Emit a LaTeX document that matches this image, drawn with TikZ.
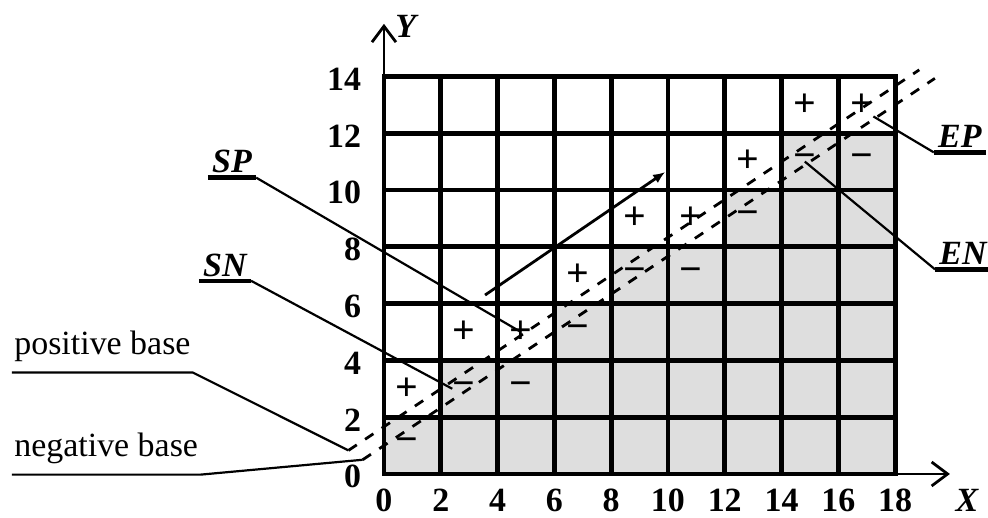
\documentclass[tikz,border=0pt]{standalone}
\usepackage{fontspec}
\setmainfont{Liberation Serif}
\usetikzlibrary{arrows.meta}
\definecolor{cellgray}{gray}{0.87}

\begin{document}
\begin{tikzpicture}[x=0.5cm, y=0.5cm,
    gridline/.style={line width=2.4pt, line cap=rect},
    axis/.style={line width=1.4pt, -{Straight Barb[length=8pt, width=12pt, line width=1.4pt]}},
    base/.style={dash pattern=on 5pt off 5pt, line width=1.4pt},
    arr/.style={line width=1.4pt, -{Latex[length=6pt, width=5pt]}},
    lead/.style={line width=1.1pt},
    uline/.style={line width=2.2pt},
    tick/.style={font=\fontsize{17}{20}\selectfont\bfseries, inner sep=1pt},
    lbl/.style={font=\fontsize{17}{20}\selectfont\bfseries\itshape, inner sep=2pt},
    sgn/.style={font=\fontsize{20}{24}\selectfont\bfseries, inner sep=0pt},
    basetxt/.style={font=\fontsize{17}{20}\selectfont, anchor=base west, inner xsep=1pt, inner ysep=5pt}
]
\useasboundingbox (-13.52,-1.55) rectangle (21.27,16.69);
\fill[cellgray] (0,0) -- (0,2) -- (2,2) -- (2,4) -- (6,4) -- (6,6) -- (8,6) -- (8,8) -- (12,8)
    -- (12,10) -- (14,10) -- (14,12) -- (18,12) -- (18,0) -- cycle;
\foreach \x in {0,2,...,18} \draw[gridline] (\x,0) -- (\x,14);
\foreach \y in {0,2,...,14} \draw[gridline] (0,\y) -- (18,\y);

\coordinate (O) at (0,0);
\coordinate (xend) at (19.93,0);
\coordinate (yend) at (0,15.85);
\draw[axis] (O) -- (xend);
\draw[axis] (O) -- (yend);

\foreach \v in {0,2,...,18} \node[tick] (x\v) at (\v,-0.92) {\v};
\foreach \v in {0,2,...,14} \node[tick, anchor=east] (y\v) at (-0.72,\v-0.1) {\v};
\node[lbl] (Xl) at (20.53,-0.92) {X};
\node[lbl] (Yl) at (0.77,15.77) {Y};

\foreach \x/\y [count=\i] in {1/3,3/5,5/5,7/7,9/9,11/9,13/11,15/13,17/13}
    \node[sgn] (p\i) at (\x-0.18,\y) {+};
\foreach \x/\y [count=\i] in {1/1,3/3,5/3,7/5,9/7,11/7,13/9,15/11,17/11}
    \node[sgn] (n\i) at (\x-0.18,\y) {−};

\coordinate (pb0) at (-1.25,0.83);
\coordinate (pb1) at (18.85,14.23);
\coordinate (nb0) at (-0.75,0.5);
\coordinate (nb1) at (19.4,13.93);
\draw[base] (pb0) -- (pb1);
\draw[base] (nb0) -- (nb1);

\coordinate (a0) at (3.56,6.3);
\coordinate (a1) at (9.9,10.63);
\draw[arr] (a0) -- (a1);

\node[lbl] (SP) at (-5.35,10.99) {SP};
\node[lbl] (SN) at (-5.6,7.36) {SN};
\node[lbl] (EP) at (20.28,11.87) {EP};
\node[lbl] (EN) at (20.39,7.75) {EN};
\draw[uline] (SP.south west) -- (SP.south east);
\draw[uline] (SN.south west) -- (SN.south east);
\draw[uline] (EP.south west) -- (EP.south east);
\draw[uline] (EN.south west) -- (EN.south east);
\draw[lead] (SP.south east) -- (p3.center);
\draw[lead] (SN.south east) -- (n2.west);
\draw[lead] (EP.south west) -- (p9.south east);
\draw[lead] (EN.south west) -- (n8.center);

\node[basetxt] (PB) at (-13.1,4.19) {positive base};
\node[basetxt] (NB) at (-13.1,0.6) {negative base};
\draw[lead] (PB.south west) -- (PB.south east) -- (pb0);
\draw[lead] (NB.south west) -- (NB.south east) -- (nb0);
\end{tikzpicture}
\end{document}
